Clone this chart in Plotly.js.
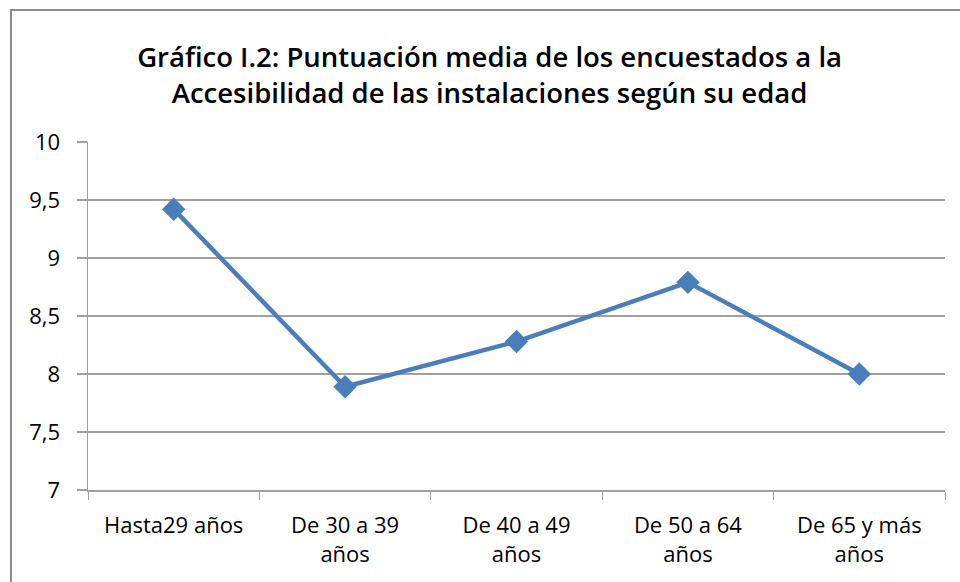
<!DOCTYPE html>
<html>
<head>
<meta charset="utf-8">
<script src="https://cdn.plot.ly/plotly-3.0.1.min.js"></script>
<style>
  html, body { margin: 0; padding: 0; background: #fff; }
  #wrap { position: relative; width: 960px; height: 582px; overflow: hidden; }
  #chart { width: 960px; height: 582px; }
  #frame { position: absolute; left: 10px; top: 9px; width: 1000px; height: 700px;
           border-top: 2px solid #8a8a8a; border-left: 2px solid #8a8a8a; pointer-events: none; }
</style>
</head>
<body>
<div id="wrap">
  <div id="chart"></div>
  <div id="frame"></div>
</div>
<script>
const categories = ["Hasta29 años", "De 30 a 39<br>años", "De 40 a 49<br>años", "De 50 a 64<br>años", "De 65 y más<br>años"];
const scores = [9.42, 7.89, 8.28, 8.79, 8.0];
const yTicks = [7, 7.5, 8, 8.5, 9, 9.5, 10];

const fontFam = "'Open Sans', Lato, sans-serif";

const trace = {
  type: "scatter",
  mode: "lines+markers",
  x: categories,
  y: scores,
  line: { color: "#4a7ebb", width: 4.5 },
  marker: { symbol: "diamond", size: 18, color: "#4a7ebb" },
  hoverinfo: "x+y"
};

const layout = {
  width: 960,
  height: 582,
  margin: { l: 88, r: 15, t: 142, b: 92 },
  paper_bgcolor: "#ffffff",
  plot_bgcolor: "#ffffff",
  separators: ",.",
  showlegend: false,
  font: { family: fontFam, color: "#000000", size: 19 },
  title: {
    text: "Gráfico I.2: Puntuación media de los encuestados a la<br>Accesibilidad de las instalaciones según su edad",
    font: { family: fontFam, size: 27.5, color: "#000000", weight: 600 },
    x: 0.51,
    xanchor: "center",
    xref: "container",
    y: 0.885,
    yref: "container",
    yanchor: "bottom"
  },
  xaxis: {
    type: "category",
    range: [-0.5, 4.5],
    showgrid: false,
    showline: true,
    linecolor: "#a0a0a0",
    linewidth: 1.5,
    ticks: "outside",
    tickson: "boundaries",
    ticklen: 8,
    tickcolor: "#a0a0a0",
    tickwidth: 1,
    ticklabelstandoff: 15,
    tickfont: { family: fontFam, size: 22, color: "#000" },
    zeroline: false,
    fixedrange: true
  },
  yaxis: {
    range: [7, 10],
    tickvals: yTicks,
    showgrid: true,
    gridcolor: "#a0a0a0",
    gridwidth: 1.5,
    showline: true,
    linecolor: "#a0a0a0",
    linewidth: 1.5,
    ticks: "outside",
    ticklen: 10,
    tickcolor: "#a0a0a0",
    tickwidth: 1.5,
    ticklabelstandoff: 12,
    tickfont: { family: fontFam, size: 22, color: "#000" },
    zeroline: false,
    fixedrange: true
  }
};

Plotly.newPlot("chart", [trace], layout, { displayModeBar: false, staticPlot: true });
</script>
</body>
</html>
